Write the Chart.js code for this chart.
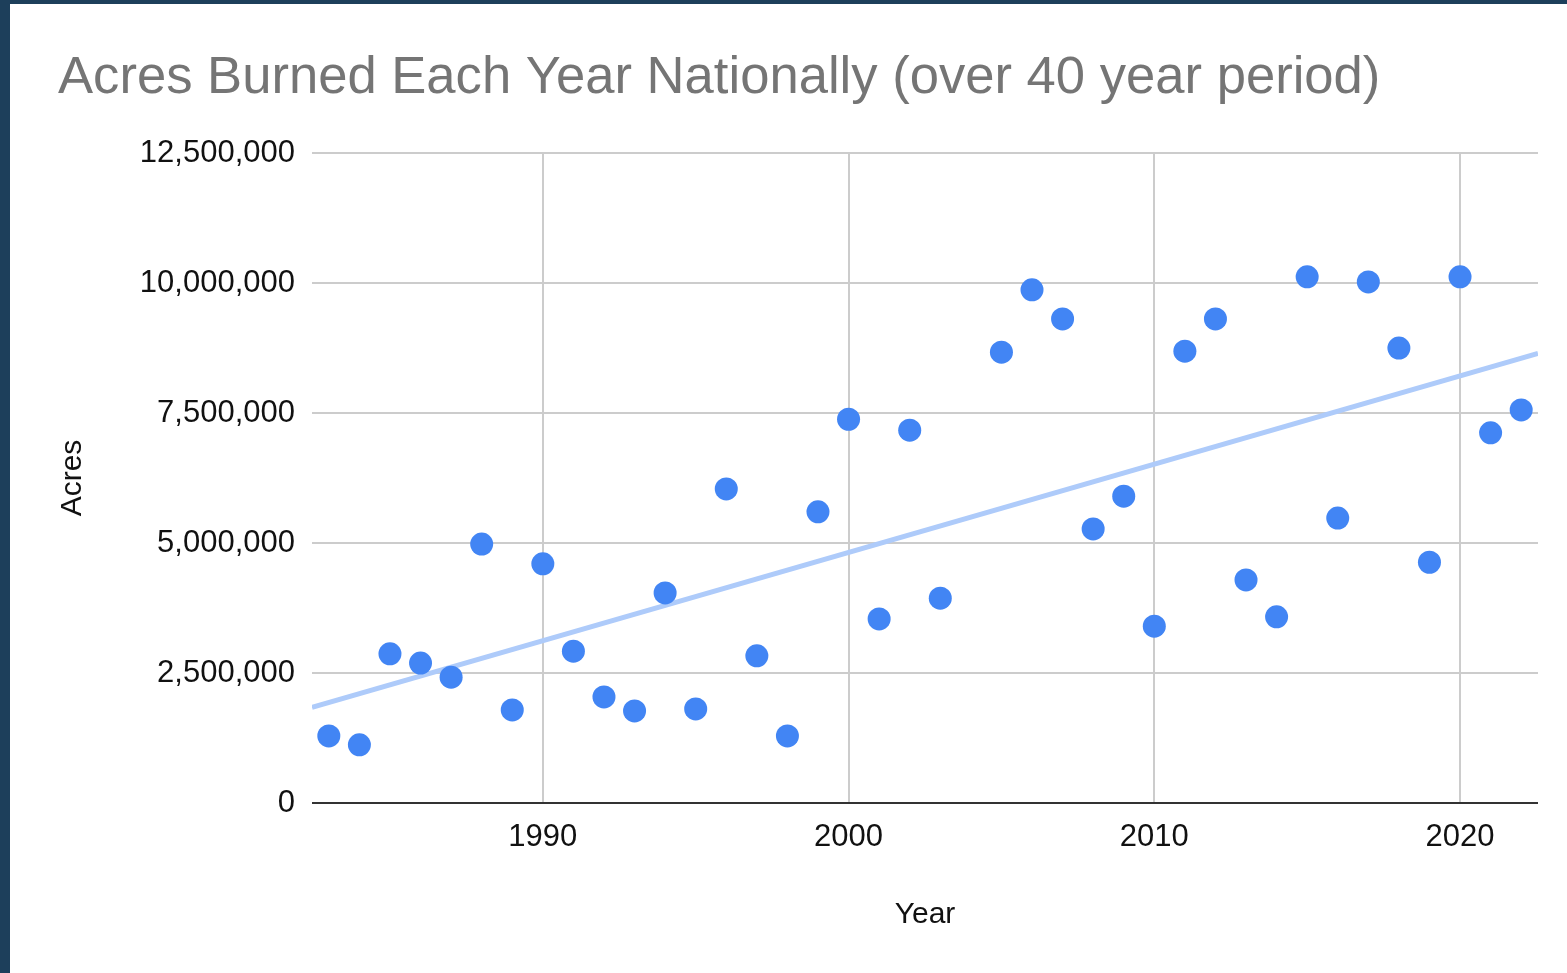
<!DOCTYPE html>
<html>
<head>
<meta charset="utf-8">
<script src="https://cdn.jsdelivr.net/npm/chart.js@4"></script>
<style>
  html, body { margin: 0; padding: 0; background: #1d3f5b; width: 1567px; height: 973px; overflow: hidden; }
  #wrap { position: absolute; left: 10px; top: 4px; width: 1557px; height: 969px; background: #ffffff; }
</style>
</head>
<body>
<div id="wrap"><canvas id="c"></canvas></div>
<script>
// ---- data ----
const years = [1983,1984,1985,1986,1987,1988,1989,1990,1991,1992,1993,1994,1995,1996,1997,1998,1999,2000,2001,2002,2003,2005,2006,2007,2008,2009,2010,2011,2012,2013,2014,2015,2016,2017,2018,2019,2020,2021,2022];
const acres = [1290000,1120000,2870000,2690000,2420000,4980000,1790000,4600000,2920000,2040000,1770000,4040000,1810000,6040000,2830000,1290000,5600000,7380000,3540000,7170000,3940000,8670000,9870000,9310000,5270000,5900000,3400000,8690000,9310000,4290000,3580000,10120000,5480000,10020000,8750000,4630000,10120000,7120000,7560000];
const xTicks = [1990, 2000, 2010, 2020];
const yTicks = [0, 2500000, 5000000, 7500000, 10000000, 12500000];
const titleText = 'Acres Burned Each Year Nationally (over 40 year period)';
const xTitle = 'Year';
const yTitle = 'Acres';

// ---- derived ----
const xMin = 1982.45, xMax = 2022.55;
const n = years.length;
const mx = years.reduce((a,b)=>a+b,0)/n;
const my = acres.reduce((a,b)=>a+b,0)/n;
let sxy = 0, sxx = 0;
for (let i = 0; i < n; i++) { sxy += (years[i]-mx)*(acres[i]-my); sxx += (years[i]-mx)*(years[i]-mx); }
const slope = sxy/sxx, intercept = my - slope*mx;
const points = years.map((y,i)=>({x:y, y:acres[i]}));
const trend = [xMin, xMax].map(x=>({x:x, y:intercept + slope*x}));

const FONT = '"Liberation Sans", Arial, Helvetica, sans-serif';

new Chart(document.getElementById('c'), {
  type: 'scatter',
  data: {
    datasets: [
      { type: 'scatter', data: points, backgroundColor: '#4285f4', borderWidth: 0, pointRadius: 11.5, pointHoverRadius: 11.5, order: 1 },
      { type: 'line', data: trend, borderColor: '#aecbfa', borderWidth: 5, pointRadius: 0, fill: false, order: 2 }
    ]
  },
  options: {
    responsive: true,
    maintainAspectRatio: false,
    animation: false,
    layout: { padding: { left: 48, right: 29, top: 0, bottom: 0 } },
    plugins: {
      legend: { display: false },
      tooltip: { enabled: false },
      title: {
        display: true, text: titleText, align: 'start', color: '#757575',
        font: { family: FONT, size: 52.6, weight: 'normal' },
        padding: { top: 43.3, bottom: 42.6 }
      }
    },
    scales: {
      x: {
        type: 'linear', min: xMin, max: xMax,
        afterBuildTicks: s => { s.ticks = xTicks.map(v=>({value:v})); },
        afterFit: s => { s.height = 170; },
        ticks: { color: '#111', font: { family: FONT, size: 31 }, padding: 16, maxRotation: 0, callback: v => String(v) },
        grid: { color: '#cccccc', lineWidth: 2, drawTicks: false },
        border: { display: false },
        title: { display: true, text: xTitle, color: '#111', font: { family: FONT, size: 30 }, padding: { top: 0, bottom: 40 } }
      },
      y: {
        type: 'linear', min: 0, max: 12500000,
        afterBuildTicks: s => { s.ticks = yTicks.map(v=>({value:v})); },
        afterFit: s => { s.width = 254; },
        ticks: { color: '#111', font: { family: FONT, size: 31 }, padding: 17, callback: v => v.toLocaleString('en-US') },
        grid: { color: c => (c.tick && c.tick.value === 0) ? '#333333' : '#cccccc', lineWidth: 2, drawTicks: false },
        border: { display: false },
        title: { display: true, text: yTitle, color: '#111', font: { family: FONT, size: 30, lineHeight: 1 }, padding: { top: 0, bottom: 0 } }
      }
    }
  }
});
</script>
</body>
</html>
